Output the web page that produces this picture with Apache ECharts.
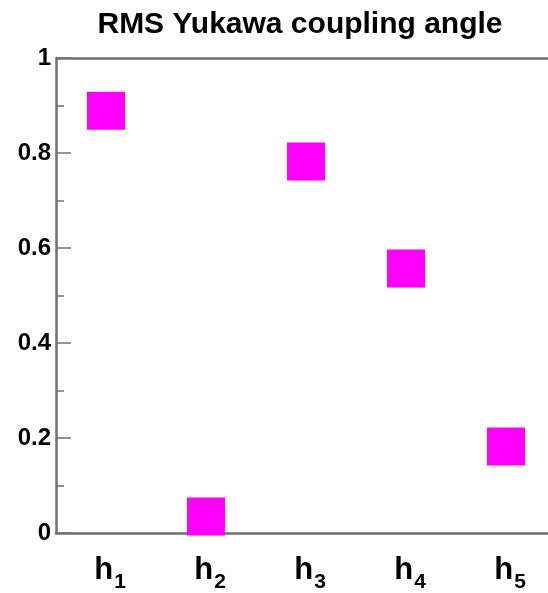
<!DOCTYPE html>
<html><head><meta charset="utf-8">
<script src="https://cdn.jsdelivr.net/npm/echarts@6/dist/echarts.min.js"></script>
<style>html,body{margin:0;padding:0;background:#fff}#c{width:548px;height:593px}</style>
</head><body><div id="c"></div>
<script>
const categories = ['1','2','3','4','5'];
const values = [0.889, 0.035, 0.782, 0.557, 0.182];
const yTicks = [0, 0.2, 0.4, 0.6, 0.8, 1];

const chart = echarts.init(document.getElementById('c'));
chart.setOption({
  animation: false,
  title: {
    text: 'RMS Yukawa coupling angle',
    left: 295, top: 5, textAlign: 'center',
    textStyle: {fontFamily: 'Liberation Sans', fontWeight: 'bold', fontSize: 30, color: '#000'}
  },
  grid: {left: 56, top: 58, right: -8, height: 475, containLabel: false, outerBoundsMode: 'none'},
  xAxis: {
    type: 'category', data: categories, boundaryGap: true,
    axisLine: {lineStyle: {color: '#707070', width: 2.5}},
    axisTick: {show: false},
    axisLabel: {
      margin: 21,
      formatter: v => '{h|h}{s|' + v + '}',
      rich: {
        h: {fontFamily: 'Liberation Sans', fontWeight: 'bold', fontSize: 31, color: '#000', height: 32, padding: [0, 0, 0, 8], verticalAlign: 'top'},
        s: {fontFamily: 'Liberation Sans', fontWeight: 'bold', fontSize: 21, color: '#000', height: 32, padding: [12, 0, 0, 1], verticalAlign: 'top'}
      }
    },
    splitLine: {show: false}
  },
  yAxis: {
    type: 'value', min: 0, max: 1, interval: 0.2,
    axisLine: {show: true, lineStyle: {color: '#707070', width: 2.5}},
    axisTick: {show: true, inside: true, length: 15, lineStyle: {color: '#707070', width: 1.5}},
    minorTick: {show: true, splitNumber: 2, length: 8, lineStyle: {color: '#707070', width: 1.5}},
    axisLabel: {
      margin: 5,
      fontFamily: 'Liberation Sans', fontWeight: 'bold', fontSize: 24, color: '#000',
      formatter: v => yTicks.includes(Math.round(v*10)/10) ? String(Math.round(v*10)/10) : ''
    },
    splitLine: {show: false}
  },
  series: [{
    type: 'scatter',
    data: values,
    symbol: 'rect',
    symbolSize: 38,
    itemStyle: {color: '#ff00ff', opacity: 1}
  }, {
    type: 'line', data: [], markLine: {
      silent: true, symbol: 'none', label: {show: false},
      lineStyle: {color: '#707070', width: 2.5, type: 'solid'},
      data: [{yAxis: 1}]
    }
  }]
});
</script></body></html>
